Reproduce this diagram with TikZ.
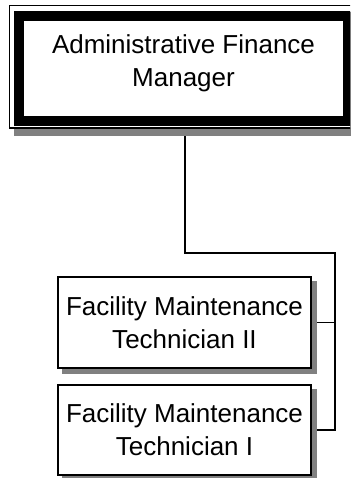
\documentclass[tikz,border=0pt]{standalone}
\usepackage{fontspec}
\setmainfont{Liberation Sans}
\pgfdeclarelayer{bg}
\pgfdeclarelayer{shade}
\pgfsetlayers{bg,shade,main}
\tikzset{
  lbl/.style={font=\fontsize{26}{33}\selectfont, align=center, inner sep=0pt},
  subbox/.style={lbl, draw=black, line width=1.4pt, fill=white,
    minimum width=253pt, minimum height=91pt},
  topframe/.style={draw=black, line width=1.4pt, fill=white,
    minimum width=348.5pt, minimum height=122.5pt, inner sep=0pt},
  band/.style={draw=black, line width=10pt},
  shadefill/.style={fill=black!50},
  conn/.style={draw=black, line width=1.4pt}
}
\begin{document}
\begin{tikzpicture}[x=1pt, y=-1pt]
\useasboundingbox (0,0) rectangle (350,478);
\clip (0,0) rectangle (350,478);
% top box
\node[topframe] (afm) at (183.75,66.75) {};
\draw[band] ([shift={(10.5pt,-11pt)}]afm.north west) rectangle ([shift={(-11pt,8pt)}]afm.south east);
\node[lbl] (afmtext) at (183.5,63.5) {Administrative Finance\\Manager};
% subordinate boxes
\node[subbox] (t2) at (184.5,322.5) {Facility Maintenance\\Technician II};
\node[subbox, minimum height=90pt] (t1) at (184.5,430) {Facility Maintenance\\Technician I};
% shadows
\begin{pgfonlayer}{shade}
\fill[shadefill] ([shift={(5pt,-7pt)}]afm.south west) rectangle ([shift={(5pt,-7pt)}]afm.north east);
\fill[shadefill] ([shift={(5pt,-5pt)}]t2.south west) rectangle ([shift={(5pt,-5pt)}]t2.north east);
\fill[shadefill] ([shift={(5pt,-5pt)}]t1.south west) rectangle ([shift={(5pt,-5pt)}]t1.north east);
\end{pgfonlayer}
% connectors
\coordinate (j1) at (185,253);
\coordinate (j2) at (335,253);
\begin{pgfonlayer}{bg}
\draw[conn] (afm.south -| j1) -- (j1) -- (j2) |- (t1.east);
\draw[conn] (t2.east) -- (t2.east -| j2);
\end{pgfonlayer}
\end{tikzpicture}
\end{document}
